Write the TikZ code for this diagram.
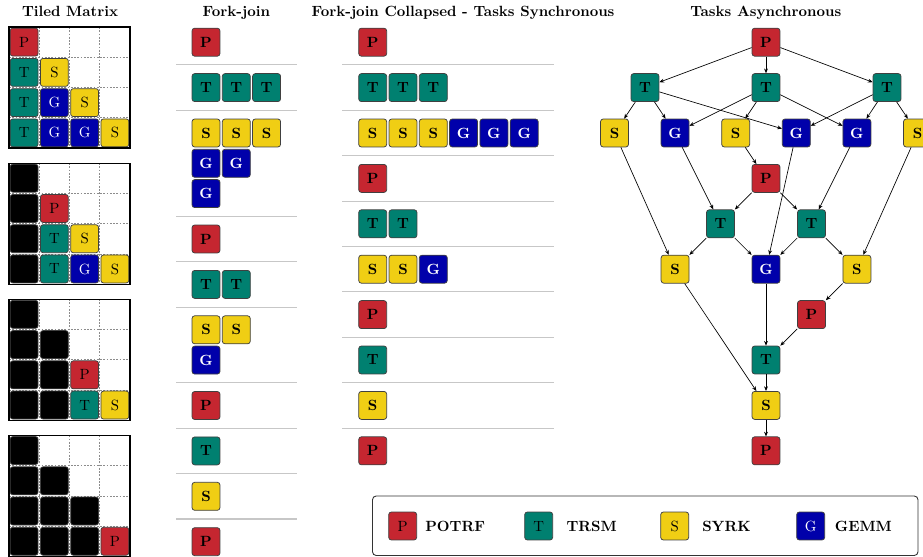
\documentclass[tikz,border=0pt]{standalone}
\usetikzlibrary{arrows.meta}
\definecolor{cP}{RGB}{197,38,48}
\definecolor{cT}{RGB}{0,128,112}
\definecolor{cS}{RGB}{240,206,20}
\definecolor{cG}{RGB}{0,0,170}
\tikzset{
  tile/.style={draw=black!75, rounded corners=1.8pt, minimum size=18.9pt, inner sep=0pt, line width=0.5pt, font=\bfseries},
  mtile/.style={tile, font=\normalfont},
  sep/.style={draw=black!22, line width=0.7pt},
  gridl/.style={draw=black!45, dash pattern=on 1.2pt off 1pt, line width=0.35pt},
  frame/.style={draw=black, line width=0.8pt},
  dep/.style={-{Stealth[length=3.2pt,width=2.6pt]}, line width=0.45pt},
  title/.style={font=\bfseries, anchor=base, inner sep=0pt},
  legtext/.style={font=\bfseries, inner sep=0pt}
}
\begin{document}
\begin{tikzpicture}[x=0.6757pt, y=-0.6757pt]
\useasboundingbox (0,0) rectangle (923,557);
\clip (0,0) rectangle (923,557);

% titles
\node[title] (t1) at (70,16.7) {Tiled Matrix};
\node[title] (t2) at (236.3,16.7) {Fork-join};
\node[title] (t3) at (463,16.7) {Fork-join Collapsed - Tasks Synchronous};
\node[title] (t4) at (765.8,16.7) {Tasks Asynchronous};

% tiled matrices: grids
\foreach \tp in {27,163.1,299.2,435.4} {
  \foreach \i in {1,2,3} {
    \draw[gridl] (9+30.25*\i,\tp) -- (9+30.25*\i,\tp+121);
    \draw[gridl] (9,\tp+30.25*\i) -- (130,\tp+30.25*\i);
  }
}
% tiled matrices: tiles
\foreach \m/\tp/\r/\c/\col/\tc/\l in {
  1/27/0/0/cP/black/P, 1/27/1/0/cT/black/T, 1/27/1/1/cS/black/S,
  1/27/2/0/cT/black/T, 1/27/2/1/cG/white/G, 1/27/2/2/cS/black/S,
  1/27/3/0/cT/black/T, 1/27/3/1/cG/white/G, 1/27/3/2/cG/white/G, 1/27/3/3/cS/black/S,
  2/163.1/0/0/black/black/{}, 2/163.1/1/0/black/black/{}, 2/163.1/2/0/black/black/{}, 2/163.1/3/0/black/black/{},
  2/163.1/1/1/cP/black/P, 2/163.1/2/1/cT/black/T, 2/163.1/2/2/cS/black/S,
  2/163.1/3/1/cT/black/T, 2/163.1/3/2/cG/white/G, 2/163.1/3/3/cS/black/S,
  3/299.2/0/0/black/black/{}, 3/299.2/1/0/black/black/{}, 3/299.2/1/1/black/black/{},
  3/299.2/2/0/black/black/{}, 3/299.2/2/1/black/black/{}, 3/299.2/3/0/black/black/{}, 3/299.2/3/1/black/black/{},
  3/299.2/2/2/cP/black/P, 3/299.2/3/2/cT/black/T, 3/299.2/3/3/cS/black/S,
  4/435.4/0/0/black/black/{}, 4/435.4/1/0/black/black/{}, 4/435.4/1/1/black/black/{},
  4/435.4/2/0/black/black/{}, 4/435.4/2/1/black/black/{}, 4/435.4/2/2/black/black/{},
  4/435.4/3/0/black/black/{}, 4/435.4/3/1/black/black/{}, 4/435.4/3/2/black/black/{},
  4/435.4/3/3/cP/black/P} {
  \node[mtile, fill=\col, text=\tc] (m\m-\r-\c) at (24.125+30.25*\c, \tp+15.125+30.25*\r) {\l};
}
\foreach \tp in {27,163.1,299.2,435.4} {
  \draw[frame] (9,\tp) rectangle (130,\tp+121);
}

% fork-join separators
\foreach \y in {64.9,110.3,216.3,261.7,307.1,382.8,428.2,473.6,519} {
  \draw[sep] (176,\y) -- (296.7,\y);
}
% fork-join tiles
\foreach \n/\x/\y/\col/\tc/\l in {
  1/206/42.2/cP/black/P,
  2/206/87.6/cT/black/T, 3/236.3/87.6/cT/black/T, 4/266.6/87.6/cT/black/T,
  5/206/133/cS/black/S, 6/236.3/133/cS/black/S, 7/266.6/133/cS/black/S,
  8/206/163.3/cG/white/G, 9/236.3/163.3/cG/white/G,
  10/206/193.6/cG/white/G,
  11/206/239/cP/black/P,
  12/206/284.4/cT/black/T, 13/236.3/284.4/cT/black/T,
  14/206/329.8/cS/black/S, 15/236.3/329.8/cS/black/S,
  16/206/360.1/cG/white/G,
  17/206/405.5/cP/black/P,
  18/206/450.9/cT/black/T,
  19/206/496.3/cS/black/S,
  20/206/541.7/cP/black/P} {
  \node[tile, fill=\col, text=\tc] (a\n) at (\x,\y) {\l};
}

% collapsed separators
\foreach \i in {0,...,8} {
  \draw[sep] (342.3,64.9+45.4*\i) -- (554,64.9+45.4*\i);
}
% collapsed tiles
\foreach \n/\x/\y/\col/\tc/\l in {
  1/372.7/42.2/cP/black/P,
  2/372.7/87.6/cT/black/T, 3/403/87.6/cT/black/T, 4/433.3/87.6/cT/black/T,
  5/372.7/133/cS/black/S, 6/403/133/cS/black/S, 7/433.3/133/cS/black/S,
  8/463.6/133/cG/white/G, 9/493.9/133/cG/white/G, 10/524.2/133/cG/white/G,
  11/372.7/178.4/cP/black/P,
  12/372.7/223.8/cT/black/T, 13/403/223.8/cT/black/T,
  14/372.7/269.2/cS/black/S, 15/403/269.2/cS/black/S, 16/433.3/269.2/cG/white/G,
  17/372.7/314.6/cP/black/P,
  18/372.7/360/cT/black/T,
  19/372.7/405.4/cS/black/S,
  20/372.7/450.8/cP/black/P} {
  \node[tile, fill=\col, text=\tc] (b\n) at (\x,\y) {\l};
}

% asynchronous DAG
\node[tile, fill=cP] (p0) at (766,42.2) {P};
\node[tile, fill=cT] (d1) at (645,87.6) {T};
\node[tile, fill=cT] (d2) at (766,87.6) {T};
\node[tile, fill=cT] (d3) at (887,87.6) {T};
\node[tile, fill=cS] (s1) at (614.5,133) {S};
\node[tile, fill=cG, text=white] (g1) at (675.1,133) {G};
\node[tile, fill=cS] (s2) at (735.7,133) {S};
\node[tile, fill=cG, text=white] (g2) at (796.3,133) {G};
\node[tile, fill=cG, text=white] (g3) at (856.9,133) {G};
\node[tile, fill=cS] (s3) at (917.5,133) {S};
\node[tile, fill=cP] (p1) at (766,178.4) {P};
\node[tile, fill=cT] (d4) at (720.5,223.8) {T};
\node[tile, fill=cT] (d5) at (811.5,223.8) {T};
\node[tile, fill=cS] (s4) at (675.1,269.2) {S};
\node[tile, fill=cG, text=white] (g4) at (766,269.2) {G};
\node[tile, fill=cS] (s5) at (856.9,269.2) {S};
\node[tile, fill=cP] (p2) at (811.5,314.6) {P};
\node[tile, fill=cT] (d6) at (766,360) {T};
\node[tile, fill=cS] (s6) at (766,405.4) {S};
\node[tile, fill=cP] (p3) at (766,450.8) {P};

\foreach \a/\b in {p0/d1, p0/d2, p0/d3,
  d1/s1, d1/g1, d1/g2, d2/g1, d2/s2, d2/g3, d3/g2, d3/g3, d3/s3,
  s2/p1, p1/d4, p1/d5, g1/d4, g3/d5,
  s1/s4, d4/s4, d4/g4, g2/g4, d5/g4, d5/s5, s3/s5,
  s5/p2, g4/d6, p2/d6, d6/s6, s4/s6, s6/p3} {
  \draw[dep] (\a) -- (\b);
}

% legend
\draw[draw=black!80, line width=0.6pt, rounded corners=2.5pt] (372.5,496) rectangle (918,555.5);
\node[mtile, fill=cP] (l1) at (402.7,526) {P};
\node[mtile, fill=cT] (l2) at (538.7,526) {T};
\node[mtile, fill=cS] (l3) at (674.7,526) {S};
\node[mtile, fill=cG, text=white] (l4) at (810.7,526) {G};
\node[legtext] (lt1) at (455.2,526) {POTRF};
\node[legtext] (lt2) at (591.7,526) {TRSM};
\node[legtext] (lt3) at (726.5,526) {SYRK};
\node[legtext] (lt4) at (863.4,526) {GEMM};
\end{tikzpicture}
\end{document}
